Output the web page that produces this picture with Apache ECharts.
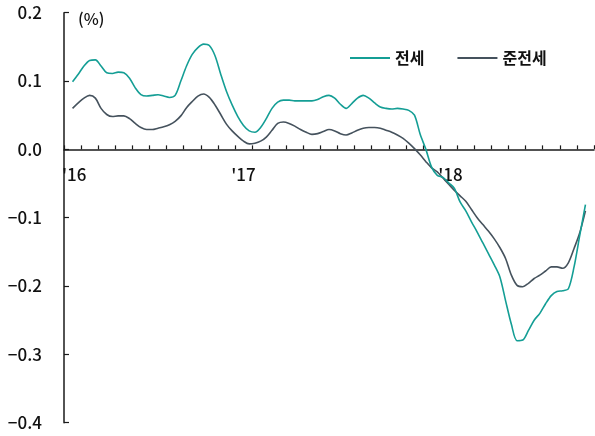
<!DOCTYPE html>
<html>
<head>
<meta charset="utf-8">
<script src="https://cdn.jsdelivr.net/npm/echarts@6/dist/echarts.min.js"></script>
<style>
html,body{margin:0;padding:0;background:#fff;}
#chart{width:595px;height:436px;}
</style>
</head>
<body>
<div id="chart"></div>
<script>
// Series names
var seriesNames = ['전세', '준전세'];
// Weekly-ish samples, 3 per axis tick, starting half a tick after the origin
var jeonse = [
  0.099,0.110,0.122,0.130,0.131,0.122,0.112,0.111,0.113,0.112,
  0.104,0.090,0.080,0.078,0.079,0.080,0.078,0.076,0.079,0.100,
  0.122,0.139,0.149,0.154,0.152,0.137,0.110,0.085,0.065,0.048,
  0.035,0.027,0.025,0.032,0.045,0.060,0.069,0.072,0.072,0.071,
  0.071,0.071,0.071,0.073,0.077,0.079,0.075,0.066,0.060,0.067,
  0.075,0.079,0.075,0.068,0.062,0.060,0.059,0.060,0.059,0.057,
  0.050,0.022,0.000,-0.026,-0.038,-0.041,-0.049,-0.057,-0.077,-0.090,
  -0.106,-0.121,-0.137,-0.153,-0.169,-0.187,-0.222,-0.256,-0.280,-0.279,
  -0.265,-0.250,-0.240,-0.226,-0.214,-0.208,-0.207,-0.204,-0.172,-0.126,
  -0.081
];
var junJeonse = [
  0.060,0.068,0.075,0.079,0.075,0.060,0.051,0.048,0.049,0.049,
  0.045,0.038,0.032,0.029,0.029,0.031,0.033,0.036,0.041,0.049,
  0.061,0.070,0.078,0.081,0.076,0.065,0.051,0.037,0.027,0.019,
  0.012,0.008,0.009,0.012,0.018,0.028,0.038,0.040,0.038,0.034,
  0.029,0.025,0.022,0.023,0.026,0.029,0.027,0.023,0.021,0.024,
  0.028,0.031,0.032,0.032,0.031,0.028,0.025,0.021,0.016,0.009,
  0.001,-0.008,-0.018,-0.027,-0.033,-0.042,-0.051,-0.060,-0.068,-0.076,
  -0.088,-0.100,-0.110,-0.120,-0.131,-0.144,-0.160,-0.184,-0.199,-0.201,
  -0.196,-0.189,-0.184,-0.178,-0.172,-0.172,-0.174,-0.166,-0.145,-0.122,
  -0.090
];
// Year labels and where they sit on the tick scale
var xLabelText = ["'16", "'17", "'18"];
var xLabelPos = [0.6, 10.5, 22.6];
var yTicks = [-0.4, -0.3, -0.2, -0.1, 0.0, 0.1, 0.2];

function toPairs(arr) {
  return arr.map(function (v, i) { return [0.5 + i / 3, v]; });
}

var W = 595, H = 436;
var gridTop = 12.7, gridBottom = 13.3;
var plotH = H - gridTop - gridBottom;
var yMin = yTicks[0], yMax = yTicks[yTicks.length - 1];
// shift bottom x-axis up so it sits at value 0
var zeroOffset = -plotH * (0 - yMin) / (yMax - yMin);

var chart = echarts.init(document.getElementById('chart'));
var axisColor = '#1a1a1a';
chart.setOption({
  animation: false,
  backgroundColor: '#ffffff',
  textStyle: { fontFamily: 'Noto Sans CJK KR, Noto Sans, sans-serif' },
  grid: { left: 64, right: 1, top: gridTop, bottom: gridBottom, containLabel: false, outerBoundsMode: 'none' },
  legend: {
    left: 345, top: 45,
    icon: 'rect',
    itemWidth: 40, itemHeight: 2, itemGap: 33,
    textStyle: { fontSize: 16, fontWeight: 'bold', color: '#111' },
    data: seriesNames
  },
  xAxis: {
    type: 'value', min: 0, max: 31, interval: 1, position: 'bottom',
    offset: zeroOffset,
    axisLine: { onZero: false, lineStyle: { color: axisColor, width: 1.5 } },
    axisTick: { inside: true, length: 4, lineStyle: { color: axisColor, width: 1.2 } },
    splitLine: { show: false },
    axisLabel: {
      customValues: xLabelPos,
      margin: 17,
      fontSize: 17,
      fontWeight: 500,
      color: '#111',
      formatter: function (v) {
        for (var i = 0; i < xLabelPos.length; i++) {
          if (Math.abs(xLabelPos[i] - v) < 1e-6) return xLabelText[i];
        }
        return '';
      }
    }
  },
  yAxis: {
    type: 'value', min: yMin, max: yMax, interval: 0.1,
    name: '(%)', nameLocation: 'end', nameGap: -6,
    nameTextStyle: { align: 'left', verticalAlign: 'middle', padding: [0, 0, 0, 14], fontSize: 16, fontWeight: 500, color: '#111' },
    axisLine: { show: true, onZero: false, lineStyle: { color: axisColor, width: 1.5 } },
    axisTick: { show: true, inside: true, length: 5, lineStyle: { color: axisColor, width: 1.2 } },
    splitLine: { show: false },
    axisLabel: {
      margin: 22, fontSize: 17, fontWeight: 500, color: '#111',
      formatter: function (v) {
        var s = Math.abs(v).toFixed(1);
        return v < -1e-9 ? '\u2212' + s : s;
      }
    }
  },
  series: [
    {
      name: seriesNames[0], type: 'line', symbol: 'none', smooth: 0.3,
      lineStyle: { color: '#149e95', width: 1.6 },
      itemStyle: { color: '#149e95' },
      data: toPairs(jeonse), z: 3
    },
    {
      name: seriesNames[1], type: 'line', symbol: 'none', smooth: 0.3,
      lineStyle: { color: '#45525d', width: 1.6 },
      itemStyle: { color: '#45525d' },
      data: toPairs(junJeonse), z: 2
    }
  ]
});
</script>
</body>
</html>
